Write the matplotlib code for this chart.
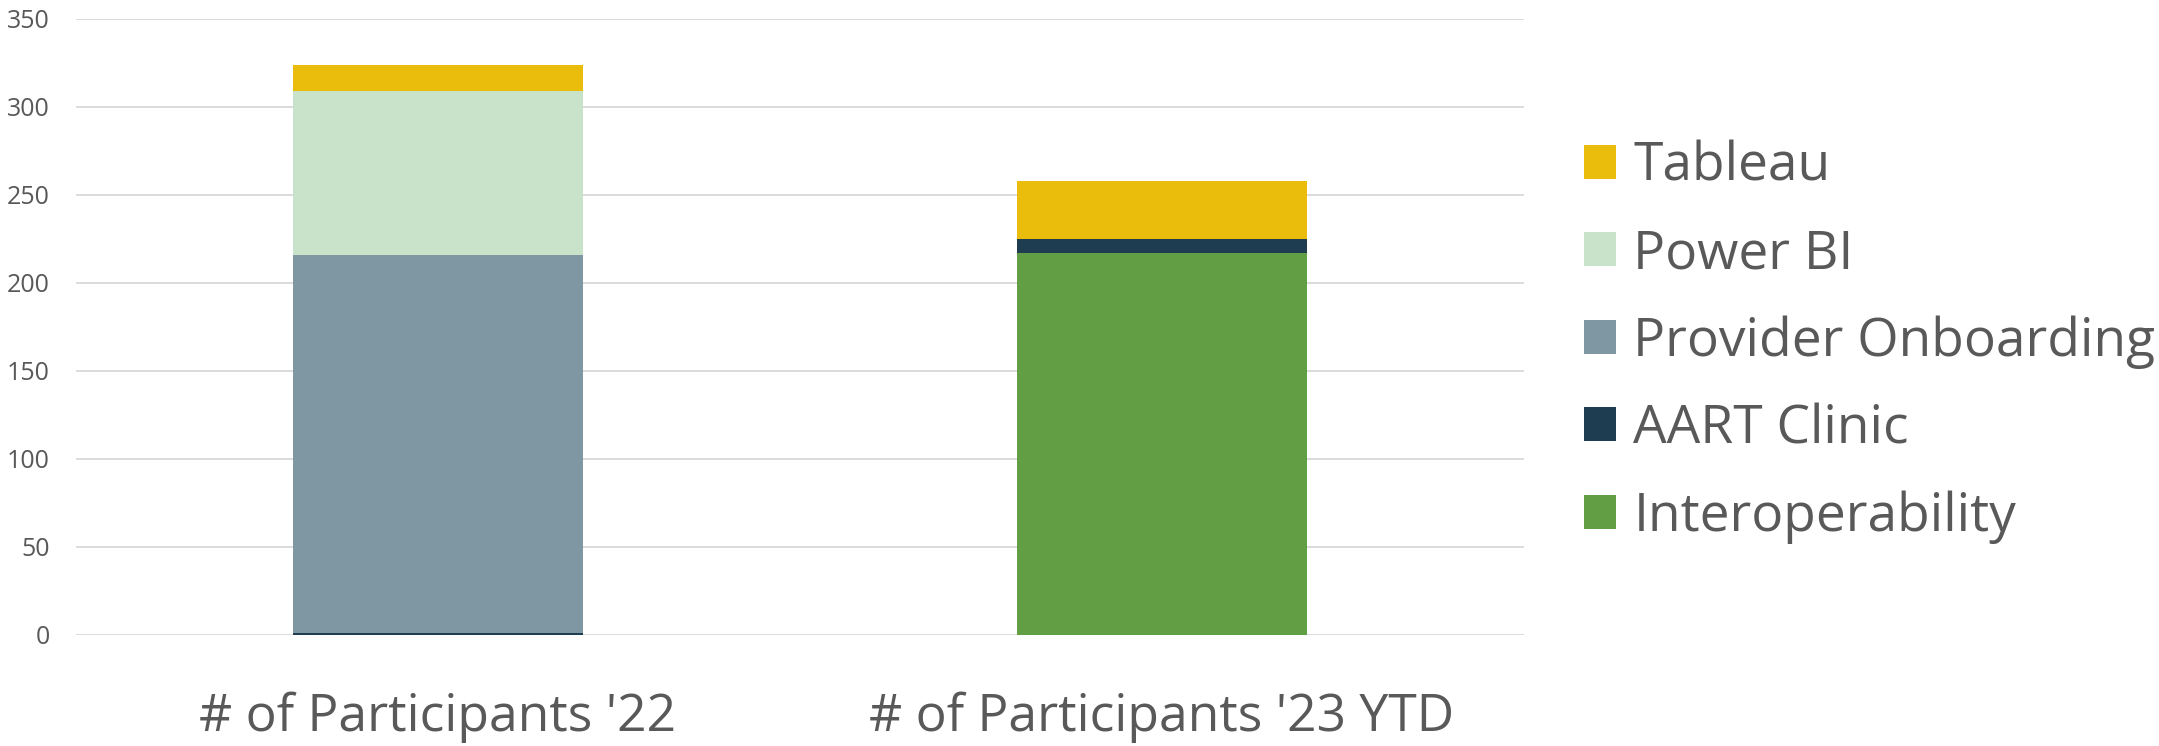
import matplotlib
matplotlib.use("Agg")
import matplotlib.pyplot as plt
import numpy as np

categories = ["# of Participants '22", "# of Participants '23 YTD"]
series_names = ["Interoperability", "AART Clinic", "Provider Onboarding", "Power BI", "Tableau"]
interoperability = [0, 217]
aart_clinic = [1, 8]
provider_onboarding = [215, 0]
power_bi = [93, 0]
tableau = [15, 33]
series_values = [interoperability, aart_clinic, provider_onboarding, power_bi, tableau]
colors = ["#629E44", "#1E3D50", "#7F97A2", "#C9E3CA", "#EABD0C"]
yticks = [0, 50, 100, 150, 200, 250, 300, 350]

plt.rcParams['font.family'] = ['Open Sans', 'DejaVu Sans']
text_color = "#595959"

fig = plt.figure(figsize=(21.59, 7.46), dpi=100)
ax = fig.add_axes([76/2159, 111/746, (1524-76)/2159, (635-19)/746])

x = np.arange(len(categories))
bottom = np.zeros(len(categories))
handles = []
for name, vals, c in zip(series_names, series_values, colors):
    b = ax.bar(x, vals, width=0.4, bottom=bottom, color=c, label=name, zorder=3)
    handles.append(b)
    bottom += np.array(vals)

ax.set_xlim(-0.5, 1.5)
ax.set_ylim(0, 350)
ax.set_yticks(yticks)
ax.set_xticks(x)
ax.set_xticklabels(categories, fontsize=37.2, color=text_color)
ax.tick_params(axis='y', length=0, pad=19, labelsize=18, labelcolor=text_color)
ax.tick_params(axis='x', length=0, pad=41)
ax.grid(axis='y', color="#D9D9D9", linewidth=1.3, zorder=0)
for s in ax.spines.values():
    s.set_visible(False)

leg = fig.legend(handles[::-1], series_names[::-1], loc='upper left',
                 bbox_to_anchor=(1584/2159, 1 - 140/746), frameon=False,
                 fontsize=38.3, handlelength=0.61, handleheight=0.61,
                 handletextpad=0.32, labelspacing=0.64, borderpad=0, borderaxespad=0)
for t in leg.get_texts():
    t.set_color(text_color)

fig.savefig("out.png", dpi=100)
